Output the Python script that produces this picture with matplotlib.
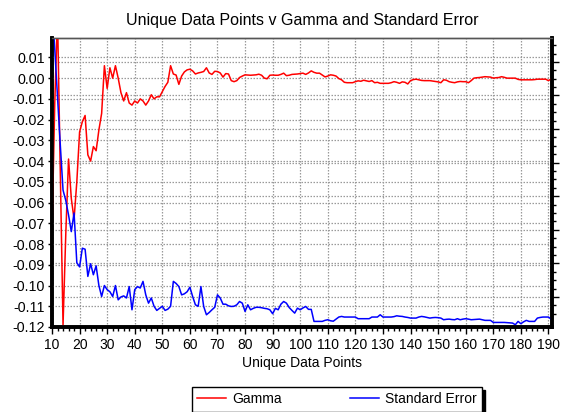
import matplotlib
matplotlib.use("Agg")
import matplotlib.pyplot as plt
from matplotlib.ticker import MultipleLocator, FixedLocator

plt.rcParams['font.family'] = ['Liberation Sans', 'DejaVu Sans']
plt.rcParams['axes.unicode_minus'] = False

x_start = 10
gamma = [
    -0.075, -0.012, 0.030, -0.045, -0.119, -0.075, -0.039, -0.058, -0.068, -0.050,   # 10-19
    -0.026, -0.021, -0.018, -0.037, -0.040, -0.033, -0.035, -0.025, -0.017, 0.006,   # 20-29
    -0.005, 0.005, 0.000, 0.006, 0.000, -0.007, -0.011, -0.007, -0.012, -0.013,      # 30-39
    -0.011, -0.012, -0.010, -0.011, -0.013, -0.011, -0.008, -0.010, -0.009, -0.009,  # 40-49
    -0.0065, -0.004, -0.002, 0.006, 0.002, 0.0015, -0.003, 0.001, 0.003, 0.004,      # 50-59
    0.0043, 0.0035, 0.002, 0.0025, 0.0028, 0.0032, 0.005, 0.0025, 0.0018, 0.0033,    # 60-69
    0.0032, 0.0025, 0.0005, 0.0022, 0.002, -0.0012, -0.0017, -0.0012, 0.0003, 0.001, # 70-79
    0.0016, 0.0015, 0.0014, 0.0015, 0.0016, 0.0019, 0.0014, 0.0, -0.0003, 0.0014,    # 80-89
    0.0015, 0.0014, 0.0014, 0.0018, 0.0024, 0.0012, 0.0014, 0.0018, 0.0019, 0.0020,  # 90-99
    0.0022, 0.0024, 0.0018, 0.0025, 0.0035, 0.0028, 0.0024, 0.0024, 0.0015, 0.0006,  # 100-109
    0.0010, 0.0016, 0.0014, 0.0010, -0.0002, -0.0008, -0.0020, -0.0022, -0.0022, -0.0022,  # 110-119
    -0.0017, -0.0013, -0.0015, -0.0010, -0.0013, -0.0016, -0.0012, -0.0022, -0.0020, -0.0025,  # 120-129
    -0.0025, -0.0025, -0.0025, -0.0022, -0.0017, -0.0020, -0.0025, -0.0018, -0.0020, -0.0028,  # 130-139
    -0.0012, -0.0007, -0.0005, -0.0008, -0.0011, -0.0012, -0.0012, -0.0012, -0.0014, -0.0016,  # 140-149
    -0.0018, -0.0022, -0.0008, -0.0010, -0.0017, -0.0020, -0.0022, -0.0018, -0.0016, -0.0017,  # 150-159
    -0.0017, -0.0022, -0.0012, 0.0, 0.0002, 0.0003, 0.0005, 0.0007, 0.0006, 0.0005,  # 160-169
    0.0, 0.0002, 0.0003, 0.0007, 0.0004, 0.0, 0.0, 0.0, 0.0, -0.0006,                # 170-179
    -0.0008, -0.0008, -0.0008, -0.0008, -0.0008, -0.0007, -0.0005, -0.0005, -0.0005, -0.0005,  # 180-189
    -0.0012, -0.0004,                                                                 # 190-191
]
std_error = [
    0.036, 0.014, -0.009, -0.032, -0.054, -0.059, -0.066, -0.074, -0.065, -0.089,    # 10-19
    -0.091, -0.082, -0.0825, -0.0956, -0.0895, -0.0948, -0.0905, -0.100, -0.1053, -0.100,  # 20-29
    -0.102, -0.103, -0.1053, -0.100, -0.1069, -0.1055, -0.105, -0.106, -0.1005, -0.1117,   # 30-39
    -0.102, -0.1005, -0.1012, -0.098, -0.1045, -0.1085, -0.106, -0.110, -0.112, -0.111,    # 40-49
    -0.110, -0.112, -0.1114, -0.110, -0.098, -0.099, -0.1005, -0.1045, -0.104, -0.103,     # 50-59
    -0.1008, -0.1053, -0.1093, -0.110, -0.1005, -0.1101, -0.1141, -0.113, -0.1117, -0.1105,  # 60-69
    -0.1045, -0.106, -0.109, -0.109, -0.1098, -0.1101, -0.110, -0.1093, -0.1077, -0.1085,  # 70-79
    -0.1125, -0.1093, -0.1117, -0.111, -0.1105, -0.1105, -0.1107, -0.111, -0.1112, -0.1117,  # 80-89
    -0.1136, -0.111, -0.1117, -0.109, -0.1077, -0.1085, -0.1106, -0.112, -0.1133, -0.1109,  # 90-99
    -0.1117, -0.1108, -0.1101, -0.1115, -0.1115, -0.1173, -0.1173, -0.1173, -0.1173, -0.1168,  # 100-109
    -0.1165, -0.1170, -0.1172, -0.1162, -0.1152, -0.1149, -0.1152, -0.1152, -0.1152, -0.1152,  # 110-119
    -0.1152, -0.1160, -0.1160, -0.1160, -0.1160, -0.1160, -0.1152, -0.1152, -0.1152, -0.1141,  # 120-129
    -0.1152, -0.1152, -0.1152, -0.1152, -0.1150, -0.1146, -0.1148, -0.1149, -0.1152, -0.1154,  # 130-139
    -0.1157, -0.1157, -0.1157, -0.1152, -0.1149, -0.1151, -0.1154, -0.1157, -0.1155, -0.1154,  # 140-149
    -0.1155, -0.1157, -0.1165, -0.1163, -0.1162, -0.1164, -0.1165, -0.1160, -0.1165, -0.1162,  # 150-159
    -0.1160, -0.1162, -0.1165, -0.1164, -0.1163, -0.1162, -0.1165, -0.1168, -0.1168, -0.1168,  # 160-169
    -0.1178, -0.1178, -0.1178, -0.1178, -0.1178, -0.1179, -0.1180, -0.1181, -0.1189, -0.1173,  # 170-179
    -0.1184, -0.1175, -0.1168, -0.1173, -0.1173, -0.1173, -0.1157, -0.1154, -0.1152, -0.1152,  # 180-189
    -0.1152, -0.1162,                                                                        # 190-191
]
x_vals = list(range(x_start, x_start + len(gamma)))

x_ticks = list(range(10, 191, 10))
y_ticks = [round(-0.12 + 0.01 * i, 2) for i in range(14)]
y_tick_labels = ["%.2f" % v for v in y_ticks]

title = "Unique Data Points v Gamma and Standard Error"
x_label = "Unique Data Points"
series_names = ["Gamma", "Standard Error"]

W, H = 561, 412
fig = plt.figure(figsize=(W / 100, H / 100), dpi=100)
fig.subplots_adjust(left=52 / W, right=552 / W, top=1 - 37.5 / H, bottom=1 - 327 / H)
ax = fig.add_subplot(111)

ylo, yhi = -0.12, 0.0196
ax.set_xlim(10, 191.3)
ax.set_ylim(ylo, yhi)

grid_kw = dict(color="#9a9a9a", linestyle=(0, (1.2, 1.2)), linewidth=0.9)
ax.set_xticks(x_ticks)
ax.xaxis.set_minor_locator(MultipleLocator(2))
ax.set_yticks(y_ticks)
ax.set_yticklabels(y_tick_labels)
ax.grid(True, axis="both", which="major", **grid_kw)
ax.set_axisbelow(True)

# secondary (right) axis with its own grid
ax2 = ax.twinx()
ax2.set_ylim(ylo, yhi)
r_major = [0.00783 - k * 0.01619 for k in range(8)]
r_minor = [0.00783 + 0.01619 / 4 * k for k in range(-30, 3)]
ax2.yaxis.set_major_locator(FixedLocator(r_major))
ax2.yaxis.set_minor_locator(FixedLocator(r_minor))
ax2.set_yticklabels([])
ax2.grid(True, axis="y", which="major", **grid_kw)
ax2.tick_params(axis="y", which="major", length=5, width=1, direction="out")
ax2.tick_params(axis="y", which="minor", length=3, width=1, direction="out")
ax2.set_zorder(0)
ax.set_zorder(1)
ax.patch.set_visible(False)

ax.plot(x_vals, gamma, color="#ff0000", linewidth=1.1, label=series_names[0])
ax.plot(x_vals, std_error, color="#0000ff", linewidth=1.1, label=series_names[1])

ax.tick_params(axis="x", which="major", length=5, width=1, direction="out", labelsize=10, pad=3)
ax.tick_params(axis="x", which="minor", length=3, width=1, direction="out")
ax.tick_params(axis="y", which="major", length=3, width=1, direction="out", labelsize=10.3, pad=2)

for a in (ax, ax2):
    for s in ("left", "bottom", "right"):
        a.spines[s].set_color("black")
        a.spines[s].set_linewidth(2.6)
    a.spines["top"].set_color("#555555")
    a.spines["top"].set_linewidth(1.0)

ax.set_title(title, fontsize=11.5, pad=9)
ax.set_xlabel(x_label, fontsize=10, labelpad=3)

leg_x0, leg_w = 192 / W, 290 / W
leg_top = 1 - 387 / H
leg = fig.legend(loc="upper left", bbox_to_anchor=(leg_x0, leg_top - 0.06, leg_w, 0.06),
                 mode="expand", ncol=2,
                 fontsize=10, frameon=True, fancybox=False,
                 shadow={"color": "black", "alpha": 1.0},
                 handlelength=2.1, borderpad=0.38,
                 handletextpad=0.4, borderaxespad=0)
leg.get_frame().set_edgecolor("black")
leg.get_frame().set_linewidth(1.0)

fig.savefig("out.png", dpi=100)
